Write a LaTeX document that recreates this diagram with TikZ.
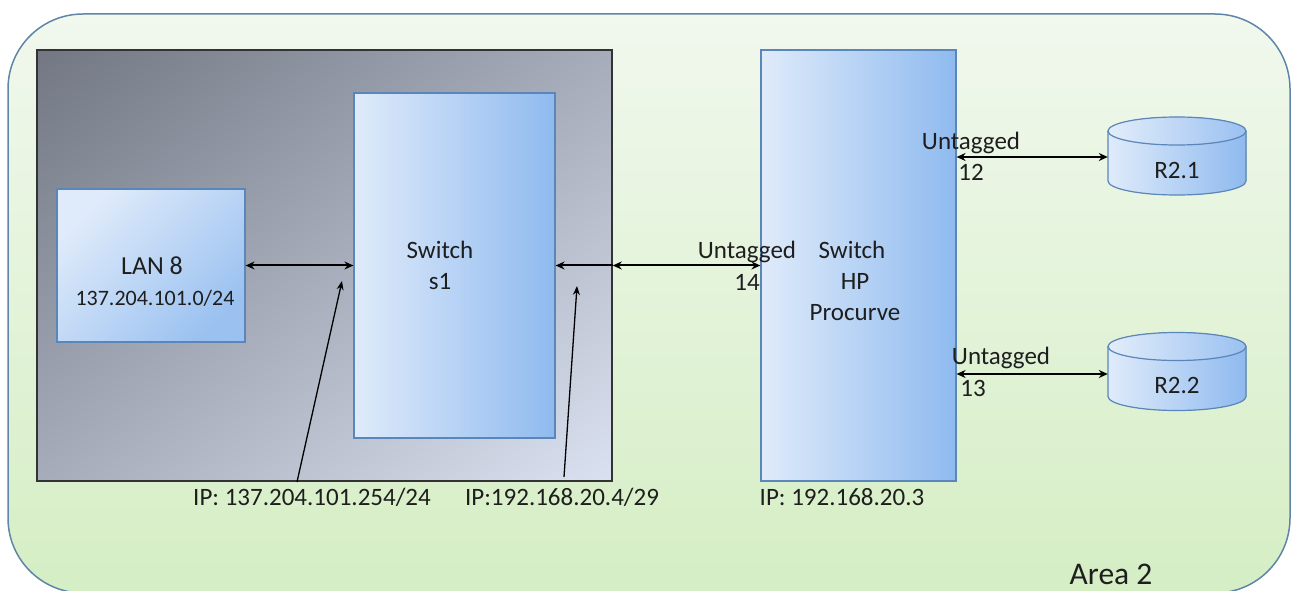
\documentclass[tikz,border=0pt]{standalone}
\usepackage{fontspec}
\setmainfont{Carlito}
\usetikzlibrary{arrows.meta}
\definecolor{areaTop}{HTML}{F1F8EE}
\definecolor{areaBot}{HTML}{D5EEC4}
\definecolor{areaLine}{HTML}{5F86A8}
\definecolor{grayDark}{HTML}{727783}
\definecolor{grayLight}{HTML}{DAE1F0}
\definecolor{boxLight}{HTML}{DFEBFA}
\definecolor{boxDark}{HTML}{8FBAEF}
\definecolor{boxLine}{HTML}{5A86BA}
\definecolor{txt}{HTML}{1E1E1E}
\tikzset{
  x=1pt, y=1pt,
  lbl/.style={text=txt, font=\fontsize{25}{31}\selectfont, inner sep=0pt, align=center},
  blue box/.style={draw=boxLine, line width=1.2pt, left color=boxLight, right color=boxDark},
  link/.style={line width=2pt, draw=black, {Stealth[length=9pt,width=8pt]}-{Stealth[length=9pt,width=8pt]}},
  onehead/.style={line width=2pt, draw=black, -{Stealth[length=9pt,width=8pt]}},
  pointer/.style={line width=1.3pt, draw=black, -{Stealth[length=9pt,width=7pt]}},
}
\begin{document}
\begin{tikzpicture}
\useasboundingbox (0,0) rectangle (1293,590);
\clip (0,0) rectangle (1293,590);

% Area 2 background
\shade[top color=areaTop, bottom color=areaBot, rounded corners=75pt]
  (8,-3) rectangle (1290,576);
\draw[areaLine, line width=1.5pt, rounded corners=75pt] (8,-3) rectangle (1290,576);

% Grey enclosure around LAN 8 and s1: diagonal gradient, dark at top left
\begin{scope}
  \clip (37,109) rectangle (612,540);
  \begin{scope}[transform canvas={rotate around={37:(324.5,324.5)}}]
    \shade[top color=grayDark, bottom color=grayLight] (-220,-20.5) rectangle (870,669.5);
  \end{scope}
\end{scope}
\node[draw=black!80, line width=1.5pt, minimum width=575pt, minimum height=431pt, inner sep=0pt]
  (encl) at (324.5,324.5) {};

% LAN 8
\node[draw=boxLine, line width=1.2pt, top color=boxLight, bottom color=boxDark!85!boxLight,
      shading angle=45, minimum width=188pt, minimum height=153pt, inner sep=0pt]
  (lan) at (151,324.5) {};
\node[lbl, font=\fontsize{26}{31}\selectfont] (lanname) at (152,324) {LAN 8};
\node[lbl, font=\fontsize{22}{26}\selectfont] (lannet) at (155,292) {137.204.101.0/24};

% Switch s1
\node[blue box, minimum width=201pt, minimum height=345pt, inner sep=0pt]
  (s1) at (454.5,324.5) {};
\node[lbl] (s1txt) at (440,325) {Switch\\s1};

% Switch HP Procurve
\node[blue box, minimum width=195pt, minimum height=431pt, inner sep=0pt]
  (hp) at (858.5,324.5) {};
\node[lbl] (hptxt) at (852,309) {Switch\\\hspace*{6pt}HP\\\hspace*{6pt}Procurve};

% Routers (cylinders)
\foreach \nm/\cy/\lab in {r21/434/R2.1, r22/218.5/R2.2}{
  \begin{scope}[shift={(1177,\cy)}]
    \fill[left color=boxLight, right color=boxDark]
      (-69,25) -- (-69,-25) arc (180:360:69 and 14) -- (69,25) arc (0:180:69 and 14) -- cycle;
    \fill[left color=boxLight!90!white, right color=boxDark!90!white] (0,25) ellipse (69 and 14);
    \draw[boxLine, line width=1.2pt]
      (-69,25) -- (-69,-25) arc (180:360:69 and 14) -- (69,25);
    \draw[boxLine, line width=1.2pt] (0,25) ellipse (69 and 14);
  \end{scope}
  \node[minimum width=138pt, minimum height=78pt, inner sep=0pt] (\nm) at (1177,\cy) {};
  \node[lbl] at (1177,\cy-14) {\lab};
}

% Links
\draw[link] (lan.east) -- (s1.west);
\coordinate (enclE) at (encl.east |- s1.east);
\draw[onehead] (enclE) -- (s1.east);
\draw[link] (enclE) -- (hp.west |- s1.east);
\draw[link] (hp.east |- 0,433) -- (r21.west |- 0,433);
\draw[link] (hp.east |- 0,216) -- (r22.west |- 0,216);

% Port labels
\node[lbl] (u14) at (747,338) {Untagged};
\node[lbl] (p14) at (747,308) {14};
\node[lbl] (u12) at (971,447) {Untagged};
\node[lbl] (p12) at (971,418) {12};
\node[lbl] (u13) at (1001,232) {Untagged};
\node[lbl] (p13) at (973,202) {13};

% Interface addresses
\coordinate (ip1foot) at (297,108);
\coordinate (ip1tip) at (342,309);
\coordinate (ip2foot) at (564,113);
\coordinate (ip2tip) at (577,304);
\draw[pointer] (ip1foot) -- (ip1tip);
\draw[pointer] (ip2foot) -- (ip2tip);
\node[lbl] (ip1) at (312,93) {IP: 137.204.101.254/24};
\node[lbl] (ip2) at (562,93) {IP:192.168.20.4/29};
\node[lbl] (ip3) at (842,93) {IP: 192.168.20.3};

\node[lbl, font=\fontsize{31.5}{36}\selectfont] (area) at (1111,16) {Area 2};
\end{tikzpicture}
\end{document}
